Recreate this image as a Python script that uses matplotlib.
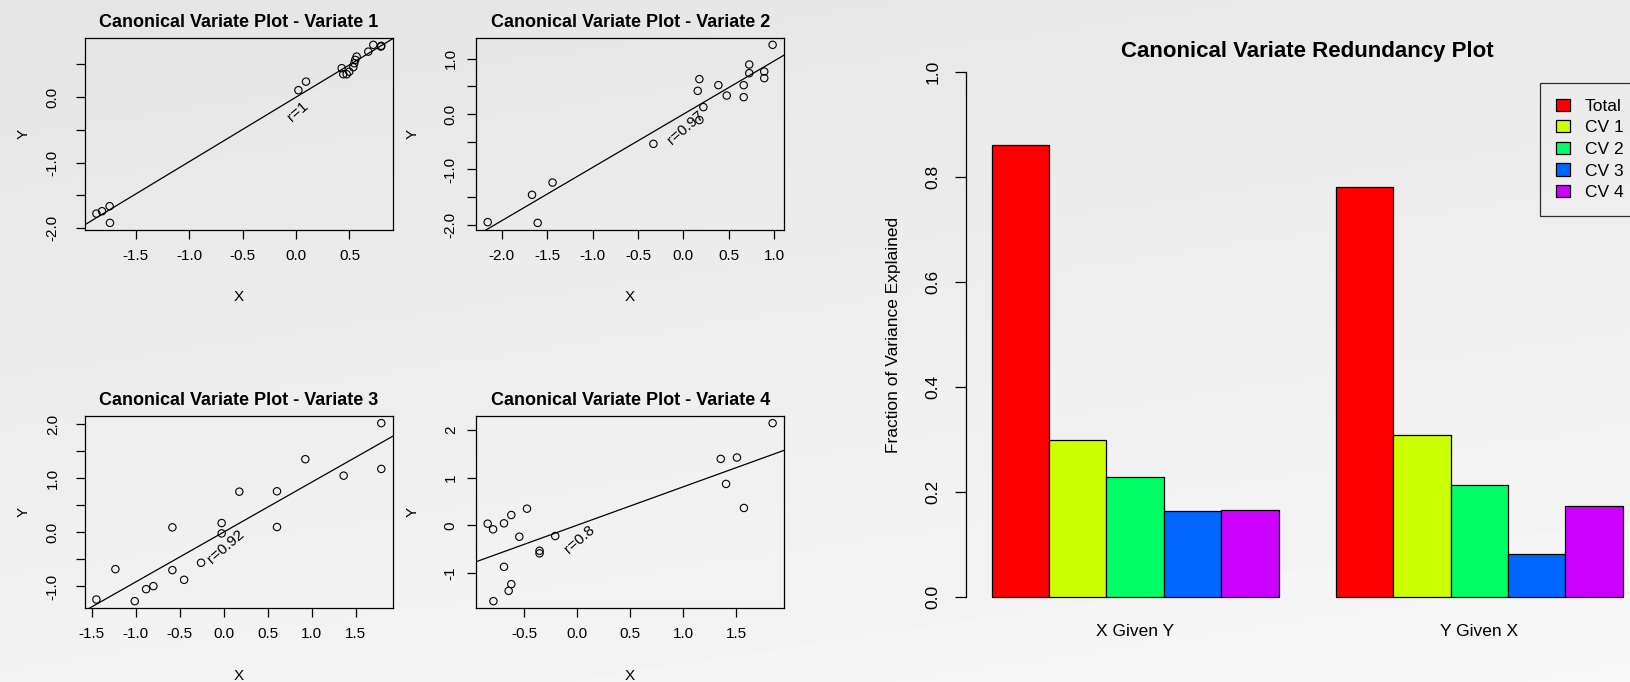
import numpy as np
import matplotlib.pyplot as plt
from matplotlib.ticker import MultipleLocator, FuncFormatter

plt.rcParams['font.family'] = ['Liberation Sans', 'DejaVu Sans']
plt.rcParams['axes.unicode_minus'] = False

W, H = 1631, 682

# canonical variate scores
cv1_x = [-1.869, -1.816, -1.745, -1.742, 0.022, 0.093, 0.427, 0.442, 0.474,
         0.498, 0.536, 0.545, 0.554, 0.567, 0.676, 0.723, 0.794, 0.798]
cv1_y = [-1.777, -1.741, -1.664, -1.919, 0.107, 0.238, 0.443, 0.351, 0.351,
         0.390, 0.458, 0.519, 0.570, 0.620, 0.696, 0.800, 0.773, 0.785]

cv2_x = [-2.154, -1.666, -1.604, -1.440, -0.330, 0.158, 0.176, 0.220, 0.176,
         0.385, 0.477, 0.664, 0.664, 0.725, 0.725, 0.890, 0.890, 0.982]
cv2_y = [-1.953, -1.459, -1.966, -1.237, -0.537, 0.421, 0.633, 0.127, -0.108,
         0.524, 0.336, 0.524, 0.307, 0.897, 0.741, 0.770, 0.651, 1.253]

cv3_x = [-1.447, -1.231, -1.011, -0.882, -0.799, -0.583, -0.583, -0.450, -0.257,
         -0.023, -0.023, 0.178, 0.606, 0.606, 0.928, 1.364, 1.792, 1.792]
cv3_y = [-1.241, -0.680, -1.272, -1.050, -0.994, 0.092, -0.698, -0.877, -0.562,
         0.172, -0.019, 0.752, 0.759, 0.098, 1.352, 1.048, 2.019, 1.172]

cv4_x = [-0.846, -0.795, -0.692, -0.623, -0.475, -0.547, -0.208, -0.356, -0.356,
         -0.692, -0.623, -0.648, -0.792, 1.356, 1.509, 1.406, 1.575, 1.846]
cv4_y = [0.034, -0.084, 0.042, 0.216, 0.348, -0.239, -0.224, -0.532, -0.587,
         -0.868, -1.231, -1.371, -1.587, 1.390, 1.418, 0.866, 0.363, 2.138]

r_labels = ['r=1', 'r=0.97', 'r=0.92', 'r=0.8']

# redundancy bars
groups = ['X Given Y', 'Y Given X']
bar_names = ['Total', 'CV 1', 'CV 2', 'CV 3', 'CV 4']
total = [0.861, 0.780]
cv1_share = [0.299, 0.308]
cv2_share = [0.228, 0.214]
cv3_share = [0.165, 0.082]
cv4_share = [0.166, 0.174]
bar_colors = ['#FF0000', '#CCFF00', '#00FF66', '#0066FF', '#CC00FF']


def px_rect(left, top, right, bottom):
    return [left / W, 1 - bottom / H, (right - left) / W, (bottom - top) / H]


def r_range(v):
    lo, hi = min(v), max(v)
    pad = 0.04 * (hi - lo)
    return lo - pad, hi + pad


def y_formatter(step):
    def fmt(v, pos):
        if step >= 1:
            return f'{v:.0f}'
        return f'{v:.1f}' if abs(v - round(v)) < 1e-9 else ''
    return FuncFormatter(fmt)


fig = plt.figure(figsize=(W / 100, H / 100), dpi=100)

# soft grey gradient background
bg = fig.add_axes([0, 0, 1, 1], zorder=-10)
yy, xx = np.mgrid[0:1:200j, 0:1:400j]
bg.imshow(0.895 + 0.055 * yy + 0.02 * xx, cmap='gray', vmin=0, vmax=1,
          aspect='auto', extent=[0, 1, 0, 1])
bg.axis('off')

panels = [
    (cv1_x, cv1_y, 0.5, px_rect(85, 37.7, 392.7, 230), 'left'),
    (cv2_x, cv2_y, 0.5, px_rect(476.3, 37.7, 784, 230), 'right'),
    (cv3_x, cv3_y, 0.5, px_rect(85, 416, 392.7, 608.3), 'left'),
    (cv4_x, cv4_y, 1.0, px_rect(476.3, 416, 784, 608.3), 'right'),
]

for k, (x, y, ystep, rect, col) in enumerate(panels):
    ax = fig.add_axes(rect)
    ax.set_facecolor('none')
    ax.scatter(x, y, s=28, facecolors='none', edgecolors='black', linewidths=0.8, zorder=3)
    ax.set_xlim(r_range(x))
    ax.set_ylim(r_range(y))
    m, b = np.polyfit(x, y, 1)
    ax.axline((0, b), slope=m, color='black', lw=0.9)
    ax.annotate(r_labels[k], xy=(0, 0), xytext=(2, -14), textcoords='offset pixels',
                rotation=41, ha='center', va='center', fontsize=11)
    ax.xaxis.set_major_locator(MultipleLocator(0.5))
    ax.xaxis.set_major_formatter(FuncFormatter(lambda v, p: f'{v:.1f}'))
    ax.yaxis.set_major_locator(MultipleLocator(ystep))
    ax.yaxis.set_major_formatter(y_formatter(ystep))
    ypad = 11.6 if col == 'left' else 6.8
    ax.tick_params(axis='x', direction='out', length=6.5, width=0.9, labelsize=11, pad=7.3)
    ax.tick_params(axis='y', direction='out', length=6.5, width=0.9, labelsize=11, pad=ypad,
                   labelrotation=90)
    plt.setp(ax.get_yticklabels(), va='center')
    for sp in ax.spines.values():
        sp.set_linewidth(0.9)
    ax.set_title(f'Canonical Variate Plot - Variate {k + 1}', fontsize=13,
                 fontweight='bold', pad=7.8)
    ax.set_xlabel('X', fontsize=11, labelpad=19.5)
    ax.set_ylabel('Y', fontsize=11, labelpad=11 if col == 'left' else 17.5)

# redundancy bar chart (extends a little past the right edge, as in the original)
bax = fig.add_axes(px_rect(966.5, 50.7, 1647.9, 618.3))
bax.set_facecolor('none')
stride = len(bar_names) + 1
bar_values = [total, cv1_share, cv2_share, cv3_share, cv4_share]
for i, (name, vals, colr) in enumerate(zip(bar_names, bar_values, bar_colors)):
    xs = [g * stride + i + 1.5 for g in range(len(groups))]
    bax.bar(xs, vals, width=1, color=colr, edgecolor='black', linewidth=0.9, label=name)

right_edge = stride * (len(groups) - 1) + len(bar_names) + 1
span = right_edge - 1
bax.set_xlim(1 - 0.04 * span, right_edge + 0.04 * span)
bax.set_ylim(-0.04, 1.04)
for s in ['top', 'right', 'bottom']:
    bax.spines[s].set_visible(False)
bax.spines['left'].set_bounds(0, 1)
bax.spines['left'].set_linewidth(0.9)
bax.set_yticks(np.arange(0, 1.01, 0.2))
bax.yaxis.set_major_formatter(FuncFormatter(lambda v, p: f'{v:.1f}'))
bax.tick_params(axis='y', direction='out', length=7.9, width=0.9, labelsize=12.5,
                pad=10.6, labelrotation=90)
plt.setp(bax.get_yticklabels(), va='center')
bax.set_xticks([g * stride + 1 + len(bar_names) / 2 for g in range(len(groups))])
bax.set_xticklabels(groups)
bax.tick_params(axis='x', length=0, labelsize=12.5, pad=4)
bax.set_ylabel('Fraction of Variance Explained', fontsize=12.5, labelpad=17.5)
bax.set_title('Canonical Variate Redundancy Plot', fontsize=16, fontweight='bold',
              y=(618.3 - 52) / (618.3 - 50.7), pad=0, va='center')

leg = bax.legend(loc='upper left', bbox_to_anchor=(1540 / W, 1 - 82.7 / H),
                 bbox_transform=fig.transFigure, frameon=True, fancybox=False,
                 edgecolor='black', facecolor='none', fontsize=12.5,
                 handlelength=0.8, handleheight=0.7, handletextpad=0.85,
                 labelspacing=0.37, borderpad=0.92, borderaxespad=0)
leg.get_frame().set_linewidth(0.9)

fig.savefig('out.png', dpi=100)
